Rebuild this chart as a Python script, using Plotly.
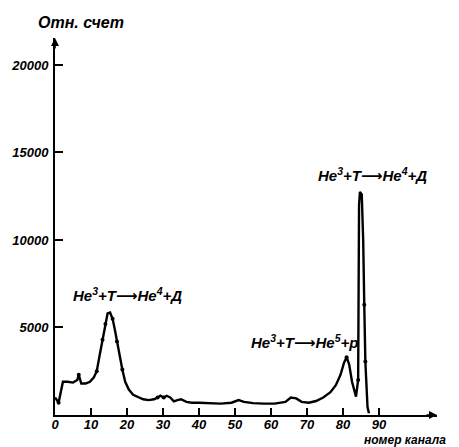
import plotly.graph_objects as go

# channel number and relative count
channels = [0, 1, 2.2, 3.5, 5, 6.2, 6.6, 7.3, 8.5, 9.7, 10.8, 11.6, 12.3, 13.2, 14.0, 14.6,
            15.3, 16.0, 16.6, 17.2, 18.0, 18.7, 19.5, 20.5, 21.7, 23, 24.5, 26, 27.5, 28.5,
            29.3, 30.2, 31, 32, 33, 34, 35, 36.5, 38, 40, 43, 46, 49, 51, 52.5, 55, 58, 61,
            64, 65.5, 67, 68.5, 70.5, 72.5, 74.5, 76.5, 78, 79.3, 80.3, 81, 81.7, 82.5, 83.6,
            84.2, 84.45, 84.7, 85.2, 85.6, 85.9, 86.2, 86.8, 87.2]
counts = [1000, 700, 1900, 1900, 1850, 2000, 2300, 1800, 1800, 1900, 2150, 2500, 3300, 4300,
          5200, 5800, 5850, 5500, 4900, 4200, 3200, 2600, 1900, 1450, 1150, 1050, 900, 850,
          900, 1000, 1100, 1000, 1100, 1000, 780, 850, 900, 750, 700, 700, 680, 650, 700, 850,
          750, 680, 650, 650, 750, 1000, 950, 750, 700, 800, 1000, 1300, 1700, 2300, 3000,
          3300, 2900, 1900, 1050, 2000, 12000, 12750, 12600, 10000, 6300, 3050, 450, 100]
# indices of points drawn with a dot (measured points visible on the scan)
dot_idx = [1, 6, 11, 13, 14, 17, 19, 21, 29, 31, 59, 63, 68, 69]

x_ticks = [0, 10, 20, 30, 40, 50, 60, 70, 80, 90]
y_ticks = [5000, 10000, 15000, 20000]

ARROW = "<span style='font-family:DejaVu Sans'>⟶</span>"
labels = [
    (20.2, 6860, "He<sup>3</sup>+T" + ARROW + "He<sup>4</sup>+Д"),
    (69.4, 4170, "He<sup>3</sup>+T" + ARROW + "He<sup>5</sup>+p"),
    (88.3, 13700, "He<sup>3</sup>+T" + ARROW + "He<sup>4</sup>+Д"),
]

FONT = "Liberation Sans"
tickfont = dict(family=FONT, size=13, color="black", weight="bold", style="italic")

fig = go.Figure()
fig.add_trace(go.Scatter(x=channels, y=counts, mode="lines",
                         line=dict(color="black", width=2.4), hoverinfo="skip"))
fig.add_trace(go.Scatter(x=[channels[i] for i in dot_idx], y=[counts[i] for i in dot_idx],
                         mode="markers", marker=dict(color="black", size=4), hoverinfo="skip"))

annotations = []
for lx, ly, txt in labels:
    annotations.append(dict(x=lx, y=ly, xref="x", yref="y", text=txt, showarrow=False,
                            xanchor="center", yanchor="middle",
                            font=dict(family=FONT, size=15, color="black",
                                      weight="bold", style="italic")))
annotations.append(dict(x=0.068, y=1.042, xref="paper", yref="paper", text="Отн. счет",
                        showarrow=False, xanchor="center", yanchor="middle",
                        font=dict(family=FONT, size=16, color="black",
                                  weight="bold", style="italic")))
annotations.append(dict(x=0.915, y=-0.067, xref="paper", yref="paper", text="номер канала",
                        showarrow=False, xanchor="center", yanchor="middle",
                        font=dict(family=FONT, size=12, color="black",
                                  weight="bold", style="italic")))
# axis arrow heads
annotations.append(dict(x=1, y=0, xref="paper", yref="paper", ax=-12, ay=0, text="",
                        showarrow=True, arrowhead=2, arrowsize=1, arrowwidth=1.6,
                        arrowcolor="black"))
annotations.append(dict(x=0, y=1, xref="paper", yref="paper", ax=0, ay=12, text="",
                        showarrow=True, arrowhead=2, arrowsize=1, arrowwidth=1.6,
                        arrowcolor="black"))

fig.update_layout(
    width=459, height=447,
    margin=dict(l=55, r=22, t=38, b=32),
    paper_bgcolor="white", plot_bgcolor="white",
    showlegend=False,
    annotations=annotations,
    xaxis=dict(range=[0, 106.1], tickvals=x_ticks, ticktext=[str(v) for v in x_ticks],
               ticks="inside", ticklen=7, tickwidth=2, tickcolor="black",
               showline=True, linecolor="black", linewidth=2, showgrid=False,
               zeroline=False, tickfont=tickfont, fixedrange=True, automargin=False,
               ticklabelstandoff=-4),
    yaxis=dict(range=[0, 21540], tickvals=y_ticks, ticktext=[str(v) for v in y_ticks],
               ticks="inside", ticklen=8, tickwidth=2, tickcolor="black",
               showline=True, linecolor="black", linewidth=2, showgrid=False,
               zeroline=False, tickfont=tickfont, ticklabelstandoff=2, fixedrange=True,
               automargin=False),
)

fig.write_html("out.html", config={"displayModeBar": False},
               post_script="document.body.style.margin='0';")
